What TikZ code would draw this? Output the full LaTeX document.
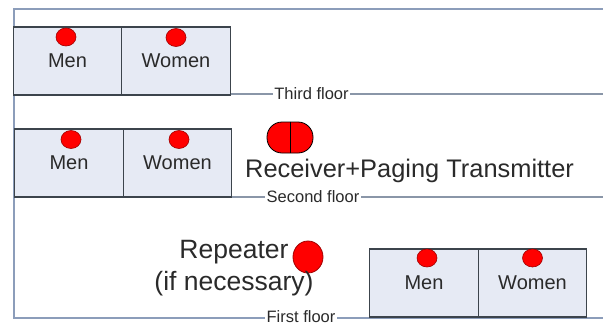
\documentclass[tikz,border=0pt]{standalone}
\usepackage{fontspec}
\setmainfont{Liberation Sans}
\definecolor{frameblue}{HTML}{8C9DBA}
\definecolor{floorgrey}{HTML}{8A96A8}
\definecolor{boxfill}{HTML}{E6EAF4}
\definecolor{boxline}{HTML}{3C444C}
\definecolor{dotred}{HTML}{FF0000}
\definecolor{dotline}{HTML}{A00000}
\definecolor{txt}{HTML}{2A2A2A}
\tikzset{
  room/.style={draw=boxline, line width=1.1pt, fill=boxfill, minimum width=108.5pt,
    minimum height=68pt, inner sep=0pt, text=txt, font=\fontsize{20}{24}\selectfont},
  reddot/.style={ellipse, draw=dotline, line width=0.6pt, fill=dotred, inner sep=0pt,
    minimum width=20pt, minimum height=18pt},
  floorlabel/.style={fill=white, inner sep=1.5pt, text=txt, font=\fontsize{16.5}{19}\selectfont},
  floorline/.style={draw=floorgrey, line width=1.3pt},
  framel/.style={draw=frameblue, line width=2pt},
  bigtext/.style={text=txt, inner sep=0pt}
}
\usetikzlibrary{shapes.geometric}
\begin{document}
\begin{tikzpicture}[x=1pt, y=-1pt]
\useasboundingbox (0,0) rectangle (603,325);
% frame
\coordinate (tl) at (14,9);
\coordinate (tr) at (603,9);
\coordinate (bl) at (14,318);
\coordinate (br) at (603,318);
\coordinate (l3) at (14,94);
\coordinate (r3) at (603,94);
\coordinate (l2) at (14,197);
\coordinate (r2) at (603,197);
\draw[floorline] (l3) -- (r3);
\draw[floorline] (l2) -- (r2);
\draw[framel] (tr) -- (tl) -- (bl) -- (br);
% floor labels
\node[floorlabel] (third) at (311.5,94) {Third floor};
\node[floorlabel] (second) at (313,196.5) {Second floor};
\node[floorlabel, inner ysep=0pt, anchor=base] (first) at (301,322.5) {First floor};
% third floor rooms
\node[room] (men3) at (67.5,61) {Men};
\node[room] (women3) at (176,61) {Women};
\node[reddot] (dm3) at (66,37) {};
\node[reddot] (dw3) at (176,37.5) {};
% second floor rooms
\node[room] (men2) at (69,163) {Men};
\node[room] (women2) at (177.5,163) {Women};
\node[reddot] (dm2) at (71,139.5) {};
\node[reddot] (dw2) at (179,139.5) {};
% receiver
\node[draw=black, line width=0.8pt, fill=dotred, rounded corners=15pt, minimum width=46pt,
  minimum height=31pt, inner sep=0pt] (recv) at (290,137.5) {};
\draw[black, line width=0.9pt] (recv.north) -- (recv.south);
\node[bigtext, anchor=base west, font=\fontsize{25.4}{28}\selectfont] (recvtext) at (245,177) {Receiver+Paging Transmitter};
% first floor rooms
\node[room] (men1) at (424,283) {Men};
\node[room] (women1) at (532.5,283) {Women};
\node[reddot] (dm1) at (427,258) {};
\node[reddot] (dw1) at (532.5,258) {};
% repeater
\node[reddot, minimum width=30pt, minimum height=32pt, line width=0.8pt] (rep) at (308,257) {};
\node[bigtext, align=center, font=\fontsize{26.5}{32}\selectfont] (reptext) at (234,268) {Repeater\\(if necessary)};
\end{tikzpicture}
\end{document}
